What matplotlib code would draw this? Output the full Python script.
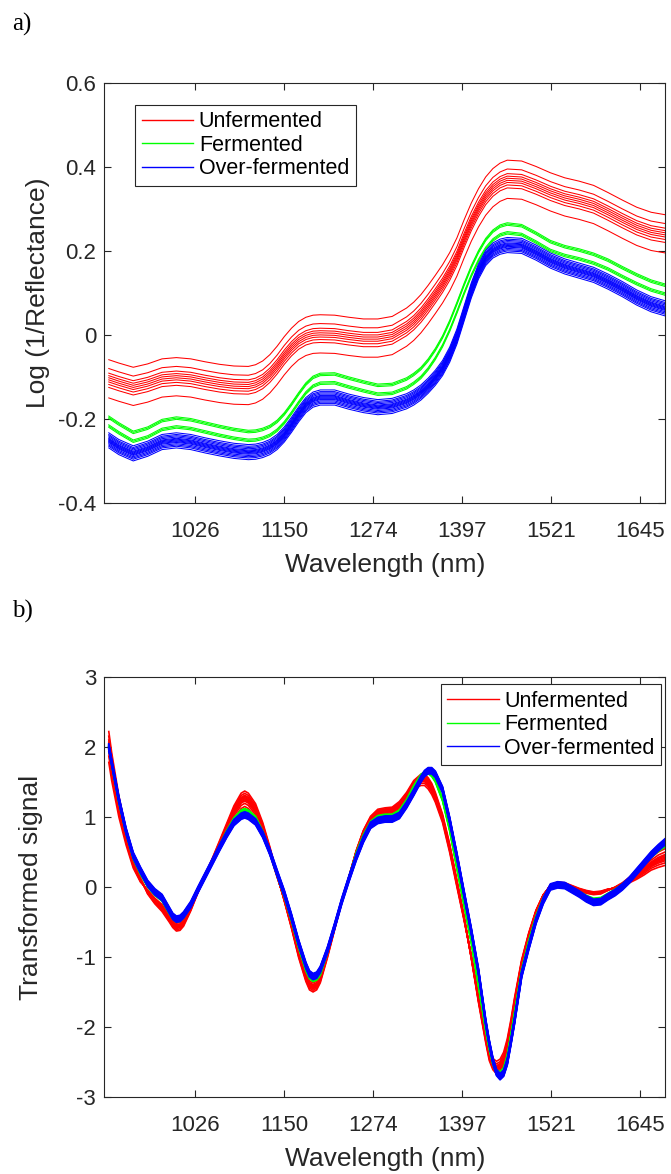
import matplotlib
matplotlib.use("Agg")
import matplotlib.pyplot as plt
import numpy as np

plt.rcParams['font.family'] = ['Liberation Sans', 'DejaVu Sans']
plt.rcParams['axes.unicode_minus'] = False

CLASSES = ["Unfermented", "Fermented", "Over-fermented"]
COLORS = ["#ff0000", "#00ff00", "#0000ff"]
XTICKS = [1026, 1150, 1274, 1397, 1521, 1645]

# ---- panel a: raw log(1/R) spectra, class centre + per-sample offsets ----
WL_A = [906, 920, 940, 960, 980, 1000, 1020, 1040, 1060, 1080,
        1100, 1110, 1120, 1130, 1140, 1150, 1160, 1170, 1180, 1190,
        1200, 1220, 1240, 1260, 1280, 1300, 1320, 1330, 1340, 1350,
        1360, 1370, 1380, 1390, 1400, 1410, 1420, 1430, 1440, 1450,
        1460, 1480, 1500, 1520, 1540, 1560, 1580, 1600, 1620, 1640,
        1660, 1680]

RED_A = [-0.105, -0.113, -0.123, -0.115, -0.103, -0.100, -0.103, -0.110, -0.116, -0.120,
         -0.121, -0.117, -0.108, -0.093, -0.073, -0.050, -0.030, -0.014, -0.004, 0.001,
         0.002, 0.001, -0.004, -0.008, -0.008, -0.002, 0.018, 0.032, 0.050, 0.072,
         0.096, 0.121, 0.150, 0.185, 0.228, 0.268, 0.302, 0.330, 0.350, 0.363,
         0.370, 0.368, 0.355, 0.340, 0.328, 0.320, 0.310, 0.293, 0.275, 0.258,
         0.246, 0.240]
GREEN_A = [-0.206, -0.222, -0.242, -0.232, -0.214, -0.208, -0.212, -0.220, -0.228, -0.235,
           -0.240, -0.239, -0.235, -0.228, -0.216, -0.198, -0.175, -0.150, -0.127, -0.111,
           -0.104, -0.103, -0.113, -0.122, -0.130, -0.128, -0.115, -0.104, -0.090, -0.070,
           -0.045, -0.015, 0.022, 0.065, 0.110, 0.152, 0.188, 0.217, 0.237, 0.249,
           0.254, 0.250, 0.232, 0.212, 0.200, 0.192, 0.182, 0.168, 0.150, 0.133,
           0.118, 0.108]
BLUE_A = [-0.252, -0.268, -0.283, -0.272, -0.256, -0.252, -0.256, -0.264, -0.271, -0.277,
          -0.280, -0.279, -0.275, -0.268, -0.256, -0.238, -0.215, -0.190, -0.168, -0.155,
          -0.150, -0.150, -0.160, -0.168, -0.173, -0.170, -0.159, -0.150, -0.138, -0.122,
          -0.103, -0.080, -0.048, -0.005, 0.050, 0.105, 0.150, 0.182, 0.200, 0.209,
          0.213, 0.211, 0.195, 0.176, 0.162, 0.152, 0.142, 0.126, 0.108, 0.088,
          0.072, 0.062]

RED_OFF_A = [0.046, 0.025, 0.014, 0.008, 0.003, -0.002, -0.007, -0.013, -0.020, -0.045]
GREEN_OFF_A = [0.013, 0.010, 0.007, -0.008, -0.011, -0.014]
BLUE_OFF_A = [0.019, 0.015, 0.012, 0.009, 0.006, 0.004, 0.002, 0.0, -0.002, -0.004,
              -0.007, -0.010, -0.013, -0.017]

# ---- panel b: transformed signal, class centre + weight * deviation ----
WL_B = [906, 910, 920, 930, 940, 950, 960, 970, 980, 990,
        995, 1000, 1005, 1010, 1020, 1030, 1040, 1050, 1060, 1070,
        1080, 1090, 1095, 1100, 1110, 1120, 1130, 1140, 1150, 1160,
        1170, 1180, 1185, 1190, 1195, 1200, 1210, 1220, 1230, 1240,
        1250, 1260, 1270, 1280, 1290, 1300, 1310, 1320, 1330, 1340,
        1345, 1350, 1355, 1360, 1370, 1380, 1390, 1400, 1410, 1420,
        1430, 1435, 1440, 1445, 1450, 1455, 1460, 1465, 1470, 1480,
        1490, 1500, 1510, 1520, 1530, 1540, 1550, 1560, 1570, 1580,
        1590, 1600, 1610, 1620, 1630, 1640, 1650, 1660, 1670, 1680]

BLUE_B = [2.00, 1.78, 1.25, 0.80, 0.45, 0.24, 0.05, -0.07, -0.15, -0.33,
          -0.42, -0.46, -0.45, -0.40, -0.25, -0.04, 0.16, 0.36, 0.56, 0.75,
          0.92, 1.01, 1.03, 1.01, 0.93, 0.75, 0.50, 0.20, -0.09, -0.43,
          -0.80, -1.12, -1.24, -1.28, -1.26, -1.18, -0.90, -0.56, -0.20, 0.12,
          0.42, 0.68, 0.88, 0.95, 0.97, 0.97, 1.02, 1.17, 1.35, 1.54,
          1.62, 1.66, 1.66, 1.61, 1.39, 0.95, 0.44, -0.10, -0.63, -1.21,
          -1.93, -2.23, -2.48, -2.65, -2.71, -2.66, -2.50, -2.22, -1.92, -1.25,
          -0.85, -0.48, -0.20, 0.00, 0.03, 0.02, -0.04, -0.10, -0.17, -0.22,
          -0.21, -0.14, -0.08, 0.00, 0.10, 0.22, 0.34, 0.46, 0.56, 0.65]
GREEN_B = [2.00, 1.76, 1.22, 0.78, 0.42, 0.20, 0.02, -0.10, -0.18, -0.36,
           -0.44, -0.48, -0.47, -0.42, -0.26, -0.04, 0.16, 0.37, 0.58, 0.79,
           0.97, 1.08, 1.10, 1.08, 0.99, 0.78, 0.50, 0.18, -0.12, -0.47,
           -0.85, -1.18, -1.29, -1.33, -1.31, -1.24, -0.92, -0.56, -0.20, 0.13,
           0.47, 0.73, 0.92, 1.00, 1.02, 1.02, 1.08, 1.23, 1.43, 1.59,
           1.63, 1.64, 1.60, 1.52, 1.25, 0.82, 0.28, -0.25, -0.78, -1.40,
           -2.03, -2.30, -2.52, -2.63, -2.66, -2.60, -2.42, -2.13, -1.82, -1.20,
           -0.78, -0.43, -0.17, 0.00, 0.04, 0.03, -0.03, -0.08, -0.14, -0.18,
           -0.17, -0.11, -0.05, 0.02, 0.11, 0.22, 0.33, 0.44, 0.53, 0.60]
RED_B = [2.00, 1.72, 1.15, 0.70, 0.33, 0.10, -0.07, -0.20, -0.30, -0.45,
         -0.52, -0.56, -0.55, -0.50, -0.30, -0.06, 0.16, 0.38, 0.61, 0.84,
         1.07, 1.23, 1.26, 1.23, 1.09, 0.84, 0.52, 0.16, -0.18, -0.55,
         -0.95, -1.28, -1.39, -1.42, -1.39, -1.30, -0.96, -0.58, -0.20, 0.14,
         0.50, 0.78, 0.97, 1.06, 1.08, 1.09, 1.16, 1.30, 1.46, 1.53,
         1.53, 1.48, 1.40, 1.28, 0.98, 0.55, 0.05, -0.45, -1.00, -1.60,
         -2.15, -2.40, -2.53, -2.58, -2.55, -2.45, -2.25, -1.97, -1.65, -1.08,
         -0.68, -0.35, -0.12, 0.02, 0.05, 0.04, 0.00, -0.04, -0.07, -0.09,
         -0.08, -0.04, -0.01, 0.04, 0.10, 0.17, 0.25, 0.33, 0.39, 0.43]
RED_DEV_B = [0.22, 0.20, 0.15, 0.10, 0.06, 0.03, -0.03, -0.04, -0.05, -0.05,
             -0.06, -0.07, -0.07, -0.06, -0.04, -0.02, 0.01, 0.03, 0.05, 0.07,
             0.09, 0.11, 0.11, 0.11, 0.10, 0.08, 0.05, 0.02, -0.02, -0.04,
             -0.06, -0.07, -0.08, -0.08, -0.08, -0.07, -0.05, -0.03, -0.01, 0.01,
             0.02, 0.03, 0.04, 0.05, 0.05, 0.05, 0.06, 0.05, 0.06, 0.08,
             0.08, 0.08, 0.08, 0.07, 0.06, 0.06, 0.05, 0.03, -0.02, -0.05,
             -0.07, -0.08, -0.08, -0.09, -0.09, -0.09, -0.08, -0.07, -0.06, -0.04,
             -0.03, -0.02, -0.01, 0.01, 0.02, 0.02, 0.02, 0.02, 0.02, 0.02,
             0.02, 0.01, -0.01, -0.02, -0.04, -0.06, -0.08, -0.09, -0.11, -0.12]
GREEN_DEV_B = 0.025
BLUE_DEV_B = 0.045

RED_W_B = [1.0, 0.7, 0.45, 0.3, 0.15, 0.0, -0.15, -0.3, -0.6, -1.0]
GREEN_W_B = [0.8, 0.4, 0.1, -0.2, -0.5, -0.9]
BLUE_W_B = [1.0, 0.8, 0.6, 0.45, 0.3, 0.15, 0.05, -0.05, -0.15, -0.3, -0.45, -0.6, -0.8, -1.0]


def style_axes(ax, ylim, yticks, ylabels, ylabel, ylab_x):
    ax.set_xlim(900, 1680)
    ax.set_ylim(*ylim)
    ax.set_xticks(XTICKS)
    ax.set_xticklabels([str(t) for t in XTICKS])
    ax.set_yticks(yticks)
    ax.set_yticklabels(ylabels)
    ax.tick_params(axis='both', direction='in', length=5, width=0.8, color='#262626',
                   labelsize=16, labelcolor='#262626', top=True, right=True)
    ax.tick_params(axis='x', pad=13)
    ax.tick_params(axis='y', pad=6)
    for s in ax.spines.values():
        s.set_color('#262626')
        s.set_linewidth(0.8)
    ax.set_xlabel("Wavelength (nm)", fontsize=19, color='#262626', labelpad=8)
    ax.set_ylabel(ylabel, fontsize=19, color='#262626')
    ax.yaxis.set_label_coords(ylab_x, 0.5)


def add_legend(ax, **kw):
    handles = [plt.Line2D([], [], color=c, lw=1.0) for c in COLORS]
    leg = ax.legend(handles, CLASSES, fontsize=15.5, frameon=True, fancybox=False,
                    framealpha=1, edgecolor='#262626', handlelength=2.4,
                    handletextpad=0.25, labelspacing=0.12, borderpad=0.3,
                    borderaxespad=0, **kw)
    leg.get_frame().set_linewidth(0.8)


fig = plt.figure(figsize=(6.71, 11.74), dpi=100)

# panel a
ax1 = fig.add_axes([0.1557, 0.5716, 0.8361, 0.3578])
for off in RED_OFF_A:
    ax1.plot(WL_A, np.array(RED_A) + off, color=COLORS[0], lw=0.75)
for off in GREEN_OFF_A:
    ax1.plot(WL_A, np.array(GREEN_A) + off, color=COLORS[1], lw=0.75)
for off in BLUE_OFF_A:
    ax1.plot(WL_A, np.array(BLUE_A) + off, color=COLORS[2], lw=0.75)
style_axes(ax1, (-0.4, 0.6), [-0.4, -0.2, 0, 0.2, 0.4, 0.6],
           ["-0.4", "-0.2", "0", "0.2", "0.4", "0.6"], "Log (1/Reflectance)", -0.097)
add_legend(ax1, loc='upper left', bbox_to_anchor=(0.055, 0.948))

# panel b
ax2 = fig.add_axes([0.1557, 0.0656, 0.8361, 0.3578])
for w in RED_W_B:
    ax2.plot(WL_B, np.array(RED_B) + w * np.array(RED_DEV_B), color=COLORS[0], lw=1.2)
for w in GREEN_W_B:
    ax2.plot(WL_B, np.array(GREEN_B) + w * GREEN_DEV_B, color=COLORS[1], lw=1.2)
for w in BLUE_W_B:
    ax2.plot(WL_B, np.array(BLUE_B) + w * BLUE_DEV_B, color=COLORS[2], lw=1.2)
style_axes(ax2, (-3, 3), [-3, -2, -1, 0, 1, 2, 3],
           ["-3", "-2", "-1", "0", "1", "2", "3"], "Transformed signal", -0.11)
add_legend(ax2, loc='upper right', bbox_to_anchor=(0.992, 0.983))

fig.text(0.018, 0.989, "a)", family='Liberation Serif', fontsize=18, va='top', ha='left')
fig.text(0.018, 0.489, "b)", family='Liberation Serif', fontsize=18, va='top', ha='left')

fig.savefig("out.png", dpi=100)
